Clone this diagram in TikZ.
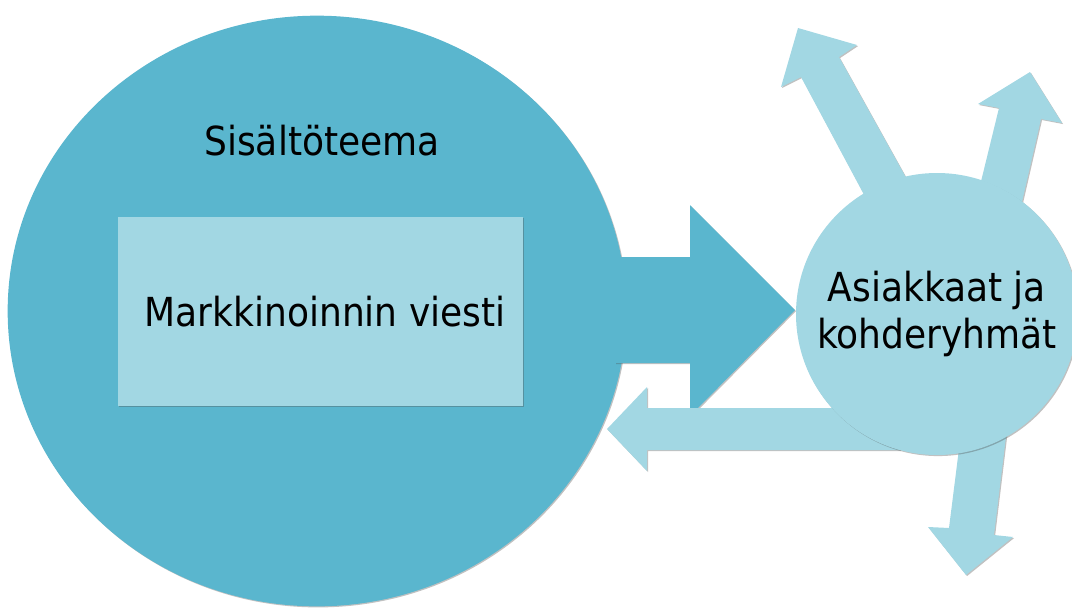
\documentclass[tikz,border=0pt]{standalone}
\usepackage{fontspec}
\setmainfont{DejaVu Sans Condensed}
\usepackage{xcolor}
\usetikzlibrary{shapes.geometric,shadows}

\definecolor{teemablue}{RGB}{90,182,206}
\definecolor{lightblue}{RGB}{162,215,227}

\tikzset{
    varjo/.style={drop shadow={shadow xshift=0.8pt,shadow yshift=-0.8pt,opacity=0.35,fill=black!70}},
    bigarrow/.style={fill=teemablue,varjo},
    smallarrow/.style={fill=lightblue,varjo},
    txt/.style={font=\fontsize{30}{35}\selectfont,align=center}
}

\begin{document}
\begin{tikzpicture}[x=0.75pt,y=-0.75pt]
    \useasboundingbox (0,0) rectangle (1072,608);

    % Big theme circle
    \node (teema) [ellipse,fill=teemablue,varjo,minimum width=464pt,minimum height=443pt] at (317,311) {};
    \node (otsikko) [txt] at (322,141) {Sisältöteema};

    % Message box
    \node (viesti) [txt,fill=lightblue,varjo,minimum width=303.75pt,minimum height=141.75pt] at (320.5,311.5) {\hspace{7pt}Markkinoinnin viesti};

    % Arrow to the customers
    \fill[bigarrow] (615,257) -- (690,257) -- (690,205) -- (795,310) -- (690,416) -- (690,363) -- (615,363) -- cycle;

    % Arrow back to the theme
    \fill[smallarrow] (900,408) -- (647,408) -- (647,387) -- (607,429) -- (647,471) -- (647,450) -- (900,450) -- cycle;

    % Arrows out of the customers
    \fill[smallarrow] (919,201) -- (839,57) -- (857,45) -- (798,28) -- (781,87) -- (801,77) -- (877,219) -- cycle;
    \fill[smallarrow] (975,206) -- (999,108) -- (978,104) -- (1030,72) -- (1062,123) -- (1041,119) -- (1016,228) -- cycle;
    \fill[smallarrow] (962,425) -- (949,528) -- (928,527) -- (966,575) -- (1013,537) -- (994,535) -- (1008,420) -- cycle;

    % Customers circle
    \node (asiakkaat) [circle,fill=lightblue,varjo,minimum size=211.5pt,txt] at (937,314) {Asiakkaat ja\\kohderyhmät};
\end{tikzpicture}
\end{document}
